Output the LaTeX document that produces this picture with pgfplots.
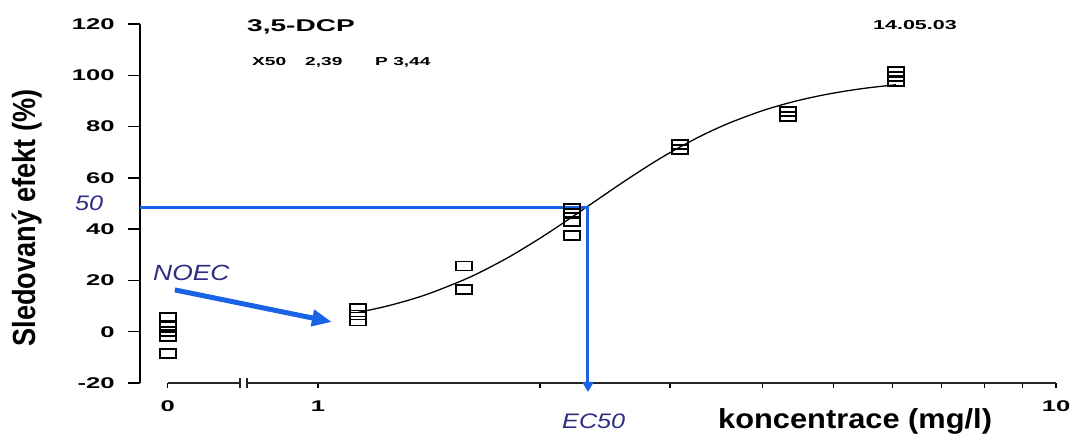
\documentclass[border=0pt]{standalone}
\usepackage{fontspec}
\setmainfont{Liberation Sans}
\newfontfamily\tickfont{Liberation Sans}[FakeStretch=1.65]
\newfontfamily\annofont{Liberation Sans}[FakeStretch=1.2]
\newfontfamily\titlefont{Liberation Sans}[FakeStretch=1.12]
\newfontfamily\ylabfont{Liberation Sans}[FakeStretch=0.85]
\usepackage{pgfplots}
\pgfplotsset{compat=1.18}
\usetikzlibrary{arrows.meta}
\definecolor{eblue}{RGB}{25,100,230}
\definecolor{anno}{RGB}{45,45,130}
\begin{document}
\begin{tikzpicture}
\useasboundingbox (0,0) rectangle (1072pt,443pt);
% y axis
\begin{axis}[xmode=log, at={(140pt,60pt)}, anchor=south west, scale only axis,
  width=916pt, height=359pt, xmin=0.574, xmax=10, ymin=-20, ymax=120, clip=false,
  hide x axis, axis y line=left, y axis line style={-, line width=2.2pt},
  tick align=outside, major tick length=12pt,
  ytick={-20,0,20,40,60,80,100,120}, yticklabels={-20,0,20,40,60,80,100,120},
  ytick style={line width=1.5pt, black},
  yticklabel style={font=\tickfont\bfseries\fontsize{15.5}{15.5}\selectfont, xshift=-10pt}]
\end{axis}
% x axis and data
\begin{axis}[xmode=log, at={(140pt,60pt)}, anchor=south west, scale only axis,
  width=916pt, height=359pt, xmin=0.574, xmax=10, ymin=-20, ymax=120, clip=false,
  hide y axis, axis line style={draw=none}, xtick pos=left,
  tick align=outside, major tick length=5pt, minor tick length=5pt,
  xtick={0.626,1,10}, xticklabels={0,1,10}, minor xtick={2,3,4,5,6,7,8,9},
  xtick style={line width=1.3pt, black}, minor tick style={line width=1.3pt, black},
  xticklabel style={font=\tickfont\bfseries\fontsize{15.5}{15.5}\selectfont, yshift=-9pt}]
\draw[line width=1.5pt, black!85] (axis cs:0.626,-20) -- (axis cs:0.784,-20);
\draw[line width=1.5pt, black!85] (axis cs:0.784,-20) ++(0pt,-5pt) -- ++(0pt,10pt);
\draw[line width=1.5pt, black!85] (axis cs:0.801,-20) ++(0pt,-5pt) -- ++(0pt,10pt);
\draw[line width=1.5pt, black!85] (axis cs:0.801,-20) -- (axis cs:10,-20);
% fitted curve
\addplot[black, line width=1.3pt, smooth, no marks] coordinates {
(1.133,7.5) (1.25,10.23) (1.4,14.41) (1.6,21.04) (1.8,28.55) (2.0,36.47) (2.2,44.36)
(2.4,51.81) (2.6,58.61) (2.8,64.63) (3.0,69.85) (3.3,76.28) (3.6,81.26) (4.0,86.18)
(4.4,89.64) (4.8,92.11) (5.2,93.89) (5.6,95.20) (6.071,96.3)};
% measured points
\addplot[only marks, mark=square, mark size=8pt, mark options={yscale=0.56, line width=1.8pt, black}] coordinates {
(0.626,5.5) (0.626,2.5) (0.626,0) (0.626,-2) (0.626,-8.5)
(1.133,9.2) (1.133,6.5) (1.133,4.2)
(1.577,25.6) (1.577,16.6)
(2.209,48) (2.209,46) (2.209,43) (2.209,37.5)
(3.094,73) (3.094,71)
(4.334,86) (4.334,84)
(6.071,101.5) (6.071,99.5) (6.071,97.5)};
% EC50 lines
\addplot[eblue, line width=3pt, no marks, -{Triangle[length=10pt,width=11pt]}] coordinates {
(0.574,48.3) (2.322,48.3) (2.322,-23.5)};
% NOEC arrow
\addplot[eblue, line width=5pt, no marks, -{Triangle[length=20pt,width=16pt]}] coordinates {
(0.640,16.3) (1.0447,3.8)};
\end{axis}
% texts
\node[anchor=west, inner sep=0, font=\tickfont\bfseries\fontsize{17}{17}\selectfont] at (247pt,416pt) {3,5-DCP};
\node[anchor=west, inner sep=0, font=\tickfont\bfseries\fontsize{11.6}{12}\selectfont] at (252pt,381pt) {X50};
\node[anchor=west, inner sep=0, font=\tickfont\bfseries\fontsize{11.6}{12}\selectfont] at (305pt,381pt) {2,39};
\node[anchor=west, inner sep=0, font=\tickfont\bfseries\fontsize{11.6}{12}\selectfont] at (375pt,381pt) {P 3,44};
\node[anchor=west, inner sep=0, font=\tickfont\bfseries\fontsize{13}{13}\selectfont] at (873pt,418pt) {14.05.03};
\node[anchor=west, inner sep=0, text=anno, font=\annofont\itshape\fontsize{21}{21}\selectfont] at (75pt,240pt) {50};
\node[anchor=west, inner sep=0, text=anno, font=\annofont\itshape\fontsize{22}{22}\selectfont] at (153pt,170pt) {NOEC};
\node[anchor=west, inner sep=0, text=anno, font=\annofont\itshape\fontsize{21}{21}\selectfont] at (562pt,22pt) {EC50};
\node[anchor=base west, inner sep=0, font=\titlefont\bfseries\fontsize{27.5}{28}\selectfont] at (718pt,14pt) {koncentrace (mg/l)};
\node[rotate=90, inner sep=0, font=\ylabfont\bfseries\fontsize{32}{32}\selectfont] at (27pt,225pt) {Sledovaný efekt (\%)};
\end{tikzpicture}
\end{document}
